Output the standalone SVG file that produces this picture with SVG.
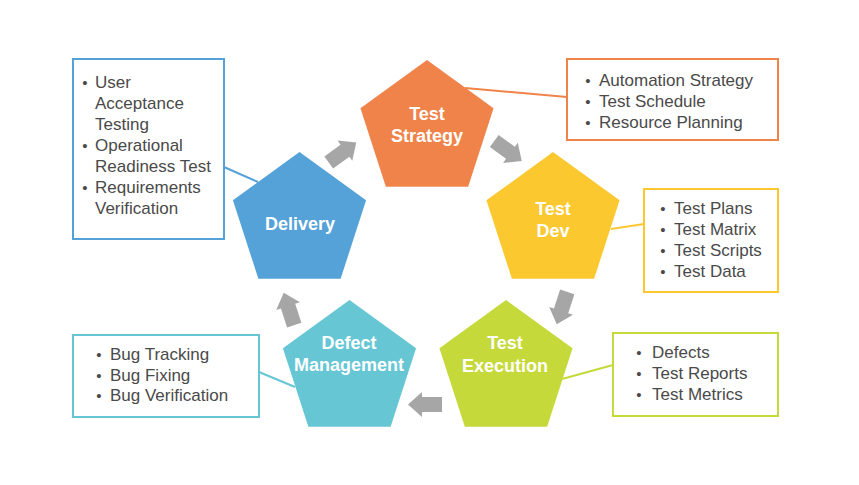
<svg xmlns="http://www.w3.org/2000/svg" width="859" height="485" viewBox="0 0 859 485">
<style>
.lbl{font-family:"Liberation Sans",Arial,sans-serif;font-weight:bold;font-size:18px;fill:#fff;text-anchor:middle}
.txt{font-family:"Liberation Sans",Arial,sans-serif;font-size:17px;fill:#4a4a4a}
.bul{font-family:"Liberation Sans",Arial,sans-serif;font-size:15px;fill:#4a4a4a;text-anchor:middle}
.box{fill:#fff;stroke-width:2}
.arrow{fill:#a6a6a6}
.conn{fill:none;stroke-width:2}
</style>
<defs>
<polygon id="pent" points="0,-70 66.57,-21.63 41.14,56.63 -41.14,56.63 -66.57,-21.63"/>
<polygon id="arr" points="-17,-7.5 3,-7.5 3,-12.5 17,0 3,12.5 3,7.5 -17,7.5"/>
</defs>
<rect width="859" height="485" fill="#fff"/>
<g id="connectors">
<line class="conn" x1="465" y1="88" x2="567" y2="97" stroke="#f0834a"/>
<line class="conn" x1="611" y1="229" x2="644" y2="224" stroke="#fbc830"/>
<line class="conn" x1="562" y1="379" x2="613" y2="365" stroke="#c5d93a"/>
<line class="conn" x1="259" y1="372" x2="295" y2="387" stroke="#66c6d4"/>
<line class="conn" x1="224" y1="167" x2="258" y2="182" stroke="#55a2d8"/>
<g class="arrow">
<use href="#arr" transform="translate(342.5,152.5) rotate(-36)"/>
<use href="#arr" transform="translate(508,151) rotate(36)"/>
<use href="#arr" transform="translate(562,308) rotate(108)"/>
<use href="#arr" transform="translate(425,404.5) rotate(180)"/>
<use href="#arr" transform="translate(289,309) rotate(252)"/>
</g>
</g>
<g id="test-strategy">
<use href="#pent" transform="translate(427,130)" fill="#f0834a"/>
<text class="lbl" x="427" y="120">Test</text>
<text class="lbl" x="427" y="142">Strategy</text>
</g>
<g id="test-dev">
<use href="#pent" transform="translate(553,222)" fill="#fbc830"/>
<text class="lbl" x="553" y="215">Test</text>
<text class="lbl" x="553" y="237">Dev</text>
</g>
<g id="test-execution">
<use href="#pent" transform="translate(506,370)" fill="#c5d93a"/>
<text class="lbl" x="505" y="348.5">Test</text>
<text class="lbl" x="505" y="371.5">Execution</text>
</g>
<g id="defect-management">
<use href="#pent" transform="translate(349.5,370)" fill="#66c6d4"/>
<text class="lbl" x="349" y="348.5">Defect</text>
<text class="lbl" x="349" y="370.5">Management</text>
</g>
<g id="delivery">
<use href="#pent" transform="translate(299.5,222)" fill="#55a2d8"/>
<text class="lbl" x="300" y="230">Delivery</text>
</g>
<g id="box-strategy">
<rect class="box" x="567" y="59" width="211" height="81" stroke="#f0834a"/>
<text class="bul" x="588" y="86">•</text><text class="txt" x="599" y="86">Automation Strategy</text>
<text class="bul" x="588" y="107">•</text><text class="txt" x="599" y="107">Test Schedule</text>
<text class="bul" x="588" y="128">•</text><text class="txt" x="599" y="128">Resource Planning</text>
</g>
<g id="box-dev">
<rect class="box" x="644" y="189" width="134" height="103" stroke="#fbc830"/>
<text class="bul" x="663" y="214">•</text><text class="txt" x="674" y="214">Test Plans</text>
<text class="bul" x="663" y="235">•</text><text class="txt" x="674" y="235">Test Matrix</text>
<text class="bul" x="663" y="256">•</text><text class="txt" x="674" y="256">Test Scripts</text>
<text class="bul" x="663" y="277">•</text><text class="txt" x="674" y="277">Test Data</text>
</g>
<g id="box-execution">
<rect class="box" x="613" y="333" width="165" height="83" stroke="#c5d93a"/>
<text class="bul" x="639" y="358">•</text><text class="txt" x="652" y="358">Defects</text>
<text class="bul" x="639" y="379">•</text><text class="txt" x="652" y="379">Test Reports</text>
<text class="bul" x="639" y="400">•</text><text class="txt" x="652" y="400">Test Metrics</text>
</g>
<g id="box-defect">
<rect class="box" x="73" y="335" width="186" height="82" stroke="#66c6d4"/>
<text class="bul" x="99" y="360">•</text><text class="txt" x="110" y="360">Bug Tracking</text>
<text class="bul" x="99" y="380.5">•</text><text class="txt" x="110" y="380.5">Bug Fixing</text>
<text class="bul" x="99" y="401">•</text><text class="txt" x="110" y="401">Bug Verification</text>
</g>
<g id="box-delivery">
<rect class="box" x="73" y="59" width="151" height="180" stroke="#55a2d8"/>
<text class="bul" x="85" y="88">•</text><text class="txt" x="95" y="88">User</text>
<text class="txt" x="95" y="109">Acceptance</text>
<text class="txt" x="95" y="130">Testing</text>
<text class="bul" x="85" y="151">•</text><text class="txt" x="95" y="151">Operational</text>
<text class="txt" x="95" y="172">Readiness Test</text>
<text class="bul" x="85" y="193">•</text><text class="txt" x="95" y="193">Requirements</text>
<text class="txt" x="95" y="214">Verification</text>
</g>
</svg>
